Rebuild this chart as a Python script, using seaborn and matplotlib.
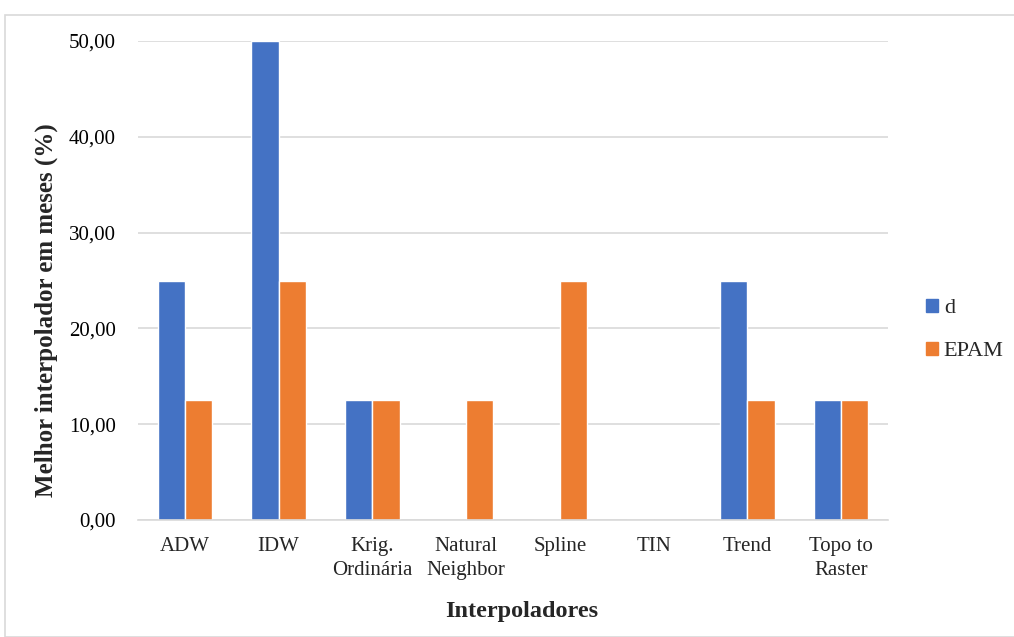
import matplotlib
matplotlib.use("Agg")
import matplotlib.pyplot as plt
import matplotlib.patches as mpatches
from matplotlib.ticker import FuncFormatter, FixedLocator
import seaborn as sns
import pandas as pd

# Data
categorias = ["ADW", "IDW", "Krig.\nOrdinária", "Natural\nNeighbor", "Spline",
              "TIN", "Trend", "Topo to\nRaster"]
valores_d = [25.0, 50.0, 12.5, 0.0, 0.0, 0.0, 25.0, 12.5]
valores_epam = [12.5, 25.0, 12.5, 12.5, 25.0, 0.0, 12.5, 12.5]
series = ["d", "EPAM"]
cores = ["#4472C4", "#ED7D31"]

df = pd.DataFrame({
    "Interpolador": categorias * 2,
    "Valor": valores_d + valores_epam,
    "Série": [series[0]] * len(categorias) + [series[1]] * len(categorias),
})

sns.set_theme(style="white")
plt.rcParams["font.family"] = ["Liberation Serif", "DejaVu Serif"]

fig = plt.figure(figsize=(10.14, 6.37), dpi=100)
ax = fig.add_axes([138 / 1014, 1 - 520 / 637, (888 - 138) / 1014, (520 - 41) / 637])

# Light frame around the chart area
fig.patches.append(mpatches.Rectangle((5 / 1014, 0), 1.0, 1 - 15 / 637,
                                      transform=fig.transFigure, fill=False,
                                      edgecolor="#D9D9D9", linewidth=1.2, zorder=0))

sns.barplot(data=df, x="Interpolador", y="Valor", hue="Série", palette=cores,
            width=0.58, gap=0, saturation=1, ax=ax, legend=False)

ax.set_ylim(0, 50)
ax.set_xlim(-0.5, len(categorias) - 0.5)
ax.set_yticks([0, 10, 20, 30, 40, 50])
ax.yaxis.set_major_formatter(FuncFormatter(lambda v, p: f"{v:.2f}".replace(".", ",")))
ax.yaxis.grid(True, color="#D9D9D9", linewidth=1.2)
ax.set_axisbelow(True)

for s in ["top", "right", "left"]:
    ax.spines[s].set_visible(False)
ax.spines["bottom"].set_color("#D9D9D9")
ax.spines["bottom"].set_linewidth(1.2)

ax.tick_params(axis="y", length=0, labelsize=15, pad=16, labelcolor="#000000")
ax.tick_params(axis="x", which="major", length=0, labelsize=15, pad=12)
ax.xaxis.set_minor_locator(FixedLocator([i - 0.5 for i in range(len(categorias) + 1)]))
ax.tick_params(axis="x", which="minor", length=8, color="#D9D9D9", width=1.2)
for lbl in ax.get_xticklabels():
    lbl.set_linespacing(1.35)

ax.set_xlabel("Interpoladores", fontsize=17.5, fontweight="bold")
ax.xaxis.set_label_coords(0.511, -0.17)
ax.set_ylabel("Melhor interpolador em meses (%)", fontsize=18, fontweight="bold")
ax.yaxis.set_label_coords(-0.106, 0.438)

handles = [mpatches.Patch(color=c, label=s) for c, s in zip(cores, series)]
fig.legend(handles=handles, loc="center left", bbox_to_anchor=(906 / 1014, 1 - 330 / 637),
           frameon=False, fontsize=16, handlelength=0.55, handleheight=0.55,
           handletextpad=0.25, labelspacing=1.05)

fig.savefig("out.png", dpi=100, facecolor="white")
